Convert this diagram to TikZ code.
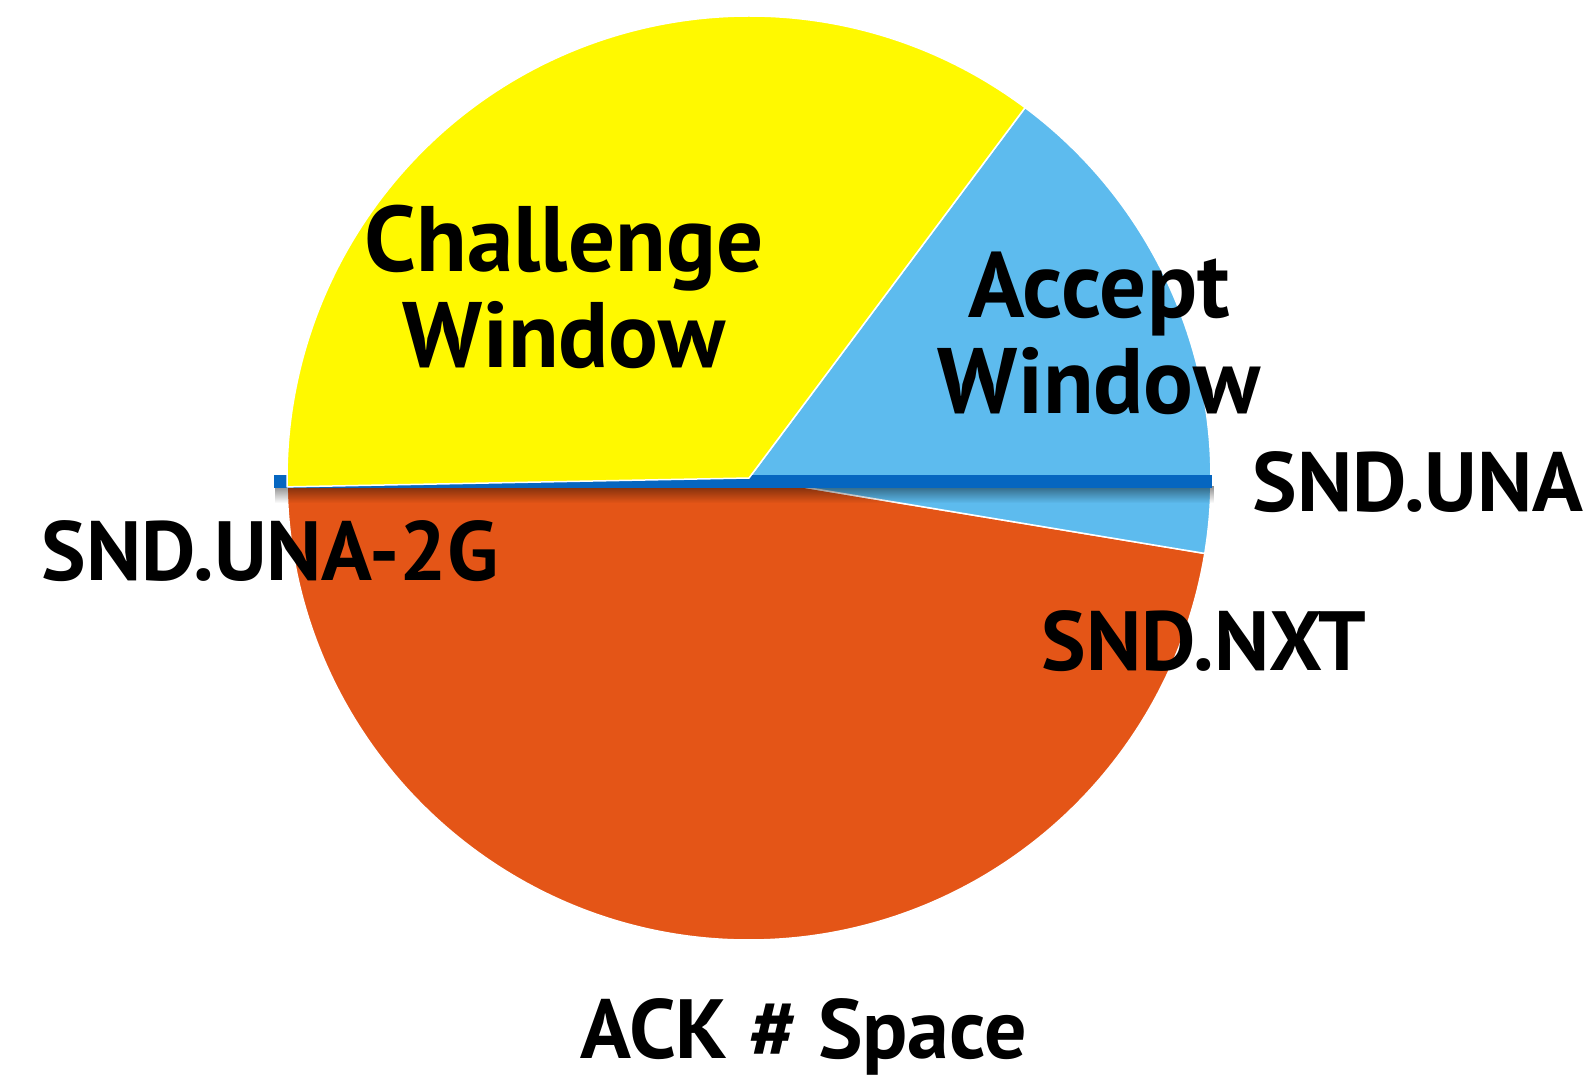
\documentclass[tikz,border=0pt]{standalone}
\usepackage{fontspec}
\usetikzlibrary{fadings}
\setmainfont{PT Sans}
\definecolor{cyel}{HTML}{FFF900}
\definecolor{cblu}{HTML}{5DBBEE}
\definecolor{corg}{HTML}{E45517}
\definecolor{cline}{HTML}{0666C0}
\begin{document}
\begin{tikzpicture}[x=1pt,y=1pt,
  lbl/.style={inner sep=0pt, font=\fontsize{84}{90}\selectfont\bfseries},
  big/.style={inner sep=0pt, align=center, font=\fontsize{93}{96}\selectfont\bfseries},
  sector/.style={draw=white, line width=1.5pt, line join=round}]
\useasboundingbox (0,-1079) rectangle (1593,0);
\coordinate (C) at (749,-478);
% orange sector
\filldraw[sector, fill=corg] (C) -- ++(181.1:462) arc[start angle=181.1, end angle=350.6, radius=462] -- cycle;
% blue sector
\filldraw[sector, fill=cblu] (C) -- ++(-9.4:462) arc[start angle=-9.4, end angle=53.3, radius=462] -- cycle;
% shadow of line
\coordinate (La) at (274,-481.5);
\coordinate (Lb) at (1212,-481.5);
\fill[black, opacity=0.45, path fading=south] (276,-486) rectangle (1216,-503);
\draw[cline, line width=13pt] (La) -- (Lb);
% yellow sector
\filldraw[sector, fill=cyel] (C) -- ++(53.3:462) arc[start angle=53.3, end angle=181.1, radius=462] -- cycle;
% labels
\node[big] (chal) at (564,-287) {Challenge\\Window};
\node[big] (acc) at (1099,-333) {Accept\\Window};
\node[lbl] (una) at (1418,-482) {SND.UNA};
\node[lbl] (una2) at (270,-551) {SND.UNA-2G};
\node[lbl] (nxt) at (1204,-641) {SND.NXT};
\node[lbl] (ack) at (804,-1037) {ACK \# Space};
\end{tikzpicture}
\end{document}
